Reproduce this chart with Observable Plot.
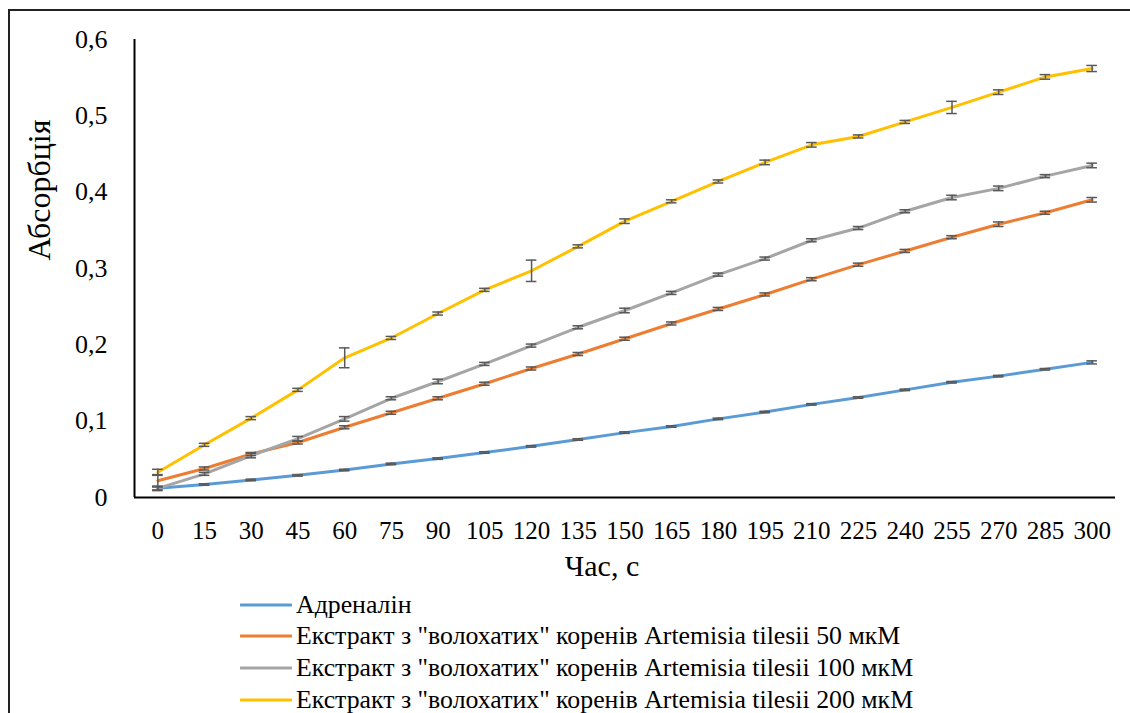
<!DOCTYPE html>
<html>
<head>
<meta charset="utf-8">
<script src="https://cdn.jsdelivr.net/npm/d3@7"></script>
<script src="https://cdn.jsdelivr.net/npm/@observablehq/plot@0.6"></script>
<style>
  html, body { margin: 0; padding: 0; background: #fff; }
  #wrap { position: relative; width: 1130px; height: 713px; overflow: hidden; font-family: "Liberation Serif", Tinos, "Times New Roman", "DejaVu Serif", serif; }
  #border { position: absolute; left: 8px; top: 9px; width: 1140px; height: 730px; border: 2px solid #222; box-sizing: border-box; }
  #chart { position: absolute; left: 0; top: 0; }
  #legend { position: absolute; left: 240px; top: 589px; font-size: 25.8px; color: #000; }
  .row { display: flex; align-items: center; height: 31.6px; white-space: nowrap; }
  .row svg { margin-right: 4px; }
</style>
</head>
<body>
<div id="wrap">
  <div id="border"></div>
  <div id="chart"></div>
  <div id="legend"></div>
</div>
<script>
const times = [0,15,30,45,60,75,90,105,120,135,150,165,180,195,210,225,240,255,270,285,300];
const seriesNames = [
  "Адреналін",
  "Екстракт з \"волохатих\" коренів Artemisia tilesii 50 мкМ",
  "Екстракт з \"волохатих\" коренів Artemisia tilesii 100 мкМ",
  "Екстракт з \"волохатих\" коренів Artemisia tilesii 200 мкМ"
];
const colors = ["#5B9BD5", "#ED7D31", "#A5A5A5", "#FFC000"];
const adrenalin = [0.012,0.017,0.023,0.029,0.036,0.044,0.051,0.059,0.067,0.076,0.085,0.093,0.103,0.112,0.122,0.131,0.141,0.151,0.159,0.168,0.177];
const ext50     = [0.022,0.038,0.057,0.072,0.092,0.111,0.130,0.149,0.169,0.188,0.208,0.228,0.247,0.266,0.286,0.305,0.323,0.341,0.358,0.373,0.390];
const ext100    = [0.012,0.031,0.055,0.077,0.103,0.130,0.152,0.175,0.199,0.223,0.245,0.268,0.292,0.313,0.337,0.353,0.375,0.393,0.405,0.421,0.435];
const ext200    = [0.033,0.069,0.104,0.141,0.183,0.209,0.241,0.272,0.297,0.329,0.362,0.388,0.414,0.439,0.462,0.473,0.492,0.511,0.531,0.551,0.562];
const errAdrenalin = [0.002,0.001,0.001,0.001,0.001,0.001,0.001,0.001,0.001,0.001,0.001,0.001,0.001,0.001,0.001,0.001,0.001,0.001,0.001,0.001,0.002];
const err50  = [0.008,0.002,0.002,0.002,0.002,0.002,0.002,0.002,0.002,0.002,0.002,0.002,0.002,0.002,0.002,0.002,0.002,0.002,0.003,0.002,0.003];
const err100 = [0.003,0.002,0.003,0.003,0.003,0.002,0.003,0.002,0.002,0.002,0.003,0.002,0.002,0.002,0.002,0.002,0.002,0.003,0.003,0.002,0.003];
const err200 = [0.004,0.002,0.002,0.002,0.013,0.002,0.002,0.002,0.014,0.002,0.003,0.002,0.002,0.003,0.003,0.002,0.002,0.008,0.003,0.003,0.004];
const yTicks = [0, 0.1, 0.2, 0.3, 0.4, 0.5, 0.6];
const xTitle = "Час, с";
const yTitle = "Абсорбція";

const values = [adrenalin, ext50, ext100, ext200];
const errors = [errAdrenalin, err50, err100, err200];
const data = [];
values.forEach((arr, s) => arr.forEach((v, i) => data.push({series: seriesNames[s], t: times[i], v, e: errors[s][i]})));

const step = times[1] - times[0];
const xDomain = [times[0] - step / 2, times[times.length - 1] + step / 2];
const capHalf = 1.7;
const fmt = d => d === 0 ? "0" : d.toFixed(1).replace(".", ",");
const serif = "\"Liberation Serif\", Tinos, \"Times New Roman\", \"DejaVu Serif\", serif";

const chart = Plot.plot({
  width: 1130,
  height: 600,
  marginLeft: 134,
  marginRight: 15,
  marginTop: 39,
  marginBottom: 103,
  style: { fontFamily: serif, color: "#000", background: "transparent" },
  x: { type: "linear", domain: xDomain },
  y: { domain: [0, 0.6] },
  color: { domain: seriesNames, range: colors },
  marks: [
    Plot.axisX({ ticks: times, tickSize: 0, tickPadding: 24, fontSize: 25, fontFamily: serif, tickFormat: d => String(d), label: null }),
    Plot.axisY({ ticks: yTicks, tickSize: 0, tickPadding: 27, fontSize: 26, fontFamily: serif, tickFormat: fmt, label: null }),
    Plot.ruleY([0], { stroke: "#000", strokeWidth: 2 }),
    Plot.ruleX([xDomain[0]], { y1: 0, y2: yTicks[yTicks.length - 1], stroke: "#000", strokeWidth: 2 }),
    Plot.line(data, { x: "t", y: "v", z: "series", stroke: "series", strokeWidth: 3, strokeLinejoin: "round", strokeLinecap: "round" }),
    Plot.ruleX(data, { x: "t", y1: d => d.v - d.e, y2: d => d.v + d.e, stroke: "#595959", strokeWidth: 1.5 }),
    Plot.ruleY(data, { y: d => d.v - d.e, x1: d => d.t - capHalf, x2: d => d.t + capHalf, stroke: "#595959", strokeWidth: 1.5 }),
    Plot.ruleY(data, { y: d => d.v + d.e, x1: d => d.t - capHalf, x2: d => d.t + capHalf, stroke: "#595959", strokeWidth: 1.5 }),
    Plot.text([yTitle], { frameAnchor: "left", rotate: -90, dx: -95, dy: -8, fontSize: 32, fontFamily: serif, fill: "#000" }),
    Plot.text([xTitle], { frameAnchor: "bottom", dy: 78, dx: -23, fontSize: 30, fontFamily: serif, fill: "#000" })
  ]
});
document.getElementById("chart").appendChild(chart);

const legend = document.getElementById("legend");
seriesNames.forEach((name, i) => {
  const row = document.createElement("div");
  row.className = "row";
  row.innerHTML = `<svg width="52" height="6"><line x1="1" y1="3" x2="51" y2="3" stroke="${colors[i]}" stroke-width="3" stroke-linecap="round"/></svg><span></span>`;
  row.querySelector("span").textContent = name;
  legend.appendChild(row);
});
</script>
</body>
</html>
